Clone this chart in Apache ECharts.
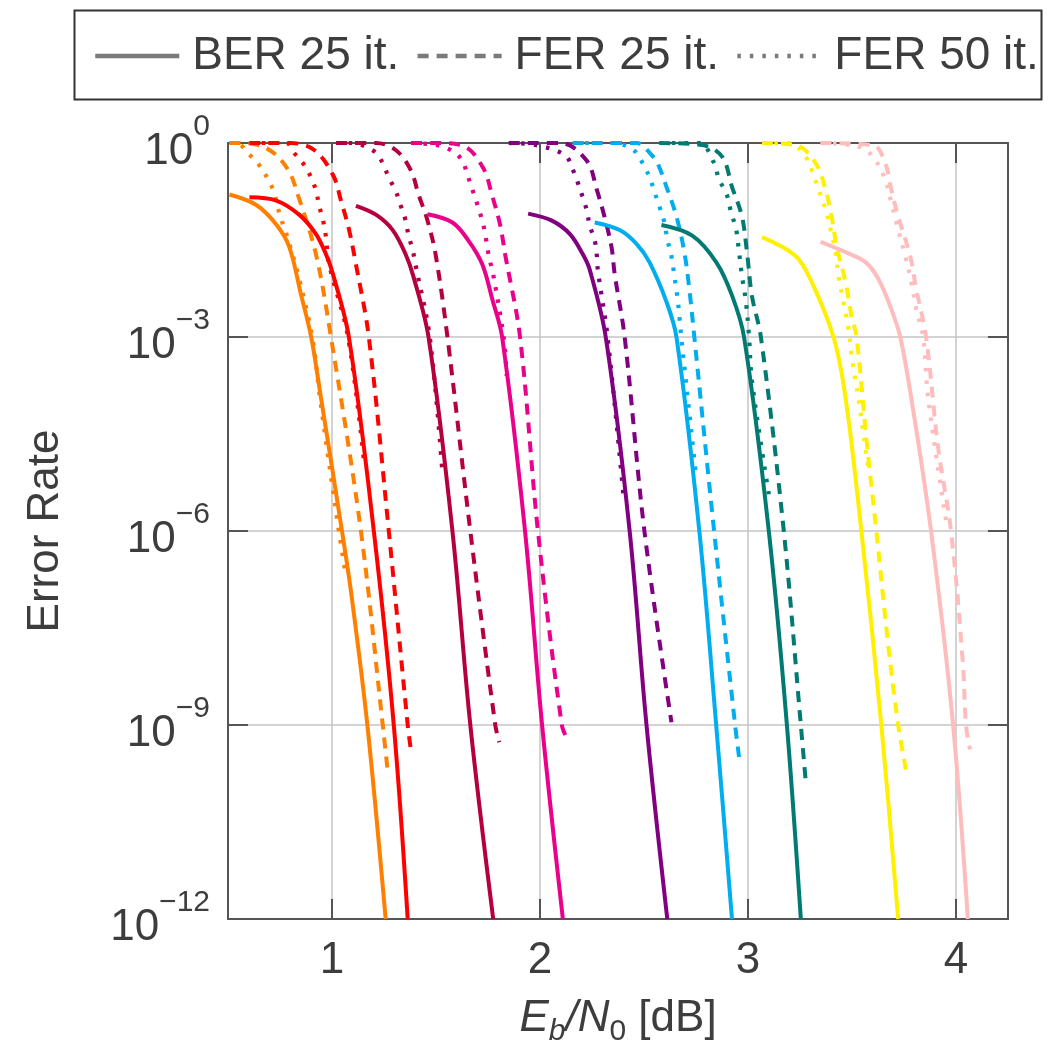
<!DOCTYPE html>
<html>
<head>
<meta charset="utf-8">
<script src="https://cdn.jsdelivr.net/npm/echarts@6/dist/echarts.min.js"></script>
<style>
html,body{margin:0;padding:0;background:#fff;overflow:hidden;width:100%;height:100%;}
#chart{width:100vw;height:100vh;}
</style>
</head>
<body>
<div id="chart"></div>
<script>
// ---- axis ticks ----
const xTicks = [1, 2, 3, 4];
const xMin = 0.5, xMax = 4.25;
const yMin = 1e-12, yMax = 1;

// ---- legend labels ----
const legendNames = ['BER 25 it.', 'FER 25 it.', 'FER 50 it.'];

// ---- colours per code ----
const codeColors = ['#ff8000', '#ff0000', '#b5003c', '#ea008a', '#800080', '#00aeef', '#007a72', '#fff000', '#ffbcbc'];

// ---- data: [Eb/N0 dB, error rate] ----
const orangeBER = [[0.507,0.16],[0.636,0.11],[0.732,0.055],[0.794,0.025],[0.852,4.4e-3],[0.9,1e-3],[0.947,1.15e-4],[1.048,1e-6],[1.094,1e-7],[1.17,1e-9],[1.258,1e-12]];
const orangeFER25 = [[0.507,1],[0.579,1],[0.699,0.78],[0.789,0.385],[0.837,0.154],[0.923,0.019],[0.995,1e-3],[1.139,1e-6],[1.244,1e-9],[1.268,1.9e-10]];
const orangeFER50 = [[0.507,1],[0.541,1],[0.603,0.66],[0.651,0.45],[0.694,0.27],[0.722,0.17],[0.75,0.075],[0.78,0.04],[0.804,0.022],[0.837,9.3e-3],[0.905,1e-3],[0.942,1.15e-4],[1.033,1e-6],[1.067,2e-7]];

const redBER = [[0.603,0.145],[0.732,0.129],[0.842,0.078],[0.923,0.039],[0.971,0.019],[1.005,9.3e-3],[1.081,1e-3],[1.201,1e-6],[1.297,1e-9],[1.364,1e-12]];
const redFER25 = [[0.603,1],[0.8,1],[0.914,0.78],[1.005,0.32],[1.043,0.129],[1.081,0.047],[1.115,0.0134],[1.177,1e-3],[1.273,1e-6],[1.364,1e-9],[1.378,4.4e-10]];
const redFER50 = [[0.603,1],[0.78,1],[0.818,0.7],[0.866,0.46],[0.9,0.29],[0.923,0.183],[0.938,0.108],[0.957,0.0635],[0.971,0.035],[0.986,0.0134],[1.077,1e-3],[1.153,1.26e-5]];

const crimsonBER = [[1.115,0.107],[1.211,0.078],[1.292,0.045],[1.354,0.019],[1.392,8.5e-3],[1.464,1e-3],[1.579,1e-6],[1.665,1e-9],[1.775,1e-12]];
const crimsonFER25 = [[1.02,1],[1.211,1],[1.306,0.78],[1.378,0.385],[1.416,0.16],[1.459,0.0635],[1.498,0.019],[1.555,1e-3],[1.665,1e-6],[1.785,1e-9],[1.804,5.4e-10]];
const crimsonFER50 = [[1.02,1],[1.09,1],[1.201,0.75],[1.244,0.49],[1.273,0.29],[1.306,0.183],[1.33,0.108],[1.354,0.0635],[1.368,0.037],[1.388,0.022],[1.402,0.0129],[1.47,1e-3],[1.531,7.9e-6]];

const magentaBER = [[1.459,0.079],[1.579,0.059],[1.656,0.031],[1.722,0.0134],[1.77,3.9e-3],[1.818,1e-3],[1.928,1e-6],[2.01,1e-9],[2.11,1e-12]];
const magentaFER25 = [[1.38,1],[1.5,1],[1.632,0.9],[1.727,0.41],[1.77,0.154],[1.809,0.053],[1.833,0.0185],[1.904,1e-3],[1.99,1e-6],[2.105,1e-9],[2.134,5.8e-10]];
const magentaFER50 = [[1.38,1],[1.5,0.93],[1.579,0.75],[1.627,0.53],[1.651,0.32],[1.675,0.19],[1.699,0.112],[1.722,0.063],[1.737,0.039],[1.746,0.0245],[1.761,0.0144],[1.775,9.3e-3],[1.825,1e-3],[1.84,2.5e-4]];

const purpleBER = [[1.943,0.081],[2.057,0.063],[2.144,0.039],[2.206,0.019],[2.239,0.011],[2.316,1e-3],[2.431,1e-6],[2.512,1e-9],[2.612,1e-12]];
const purpleFER25 = [[1.85,1],[2.1,1],[2.225,0.53],[2.273,0.19],[2.311,0.0706],[2.344,0.0245],[2.359,9.4e-3],[2.407,1e-3],[2.502,1e-6],[2.632,1.1e-9]];
const purpleFER50 = [[1.85,1],[1.98,0.93],[2.12,0.65],[2.158,0.385],[2.182,0.243],[2.206,0.143],[2.225,0.0906],[2.239,0.053],[2.263,0.0313],[2.273,0.0185],[2.278,0.0109],[2.325,1e-3],[2.402,3.3e-6]];

const cyanBER = [[2.263,0.059],[2.383,0.045],[2.464,0.0275],[2.526,0.0144],[2.608,3.5e-3],[2.656,1e-3],[2.766,1e-6],[2.847,1e-9],[2.923,1e-12]];
const cyanFER25 = [[2.158,1],[2.464,1],[2.541,0.63],[2.565,0.49],[2.608,0.21],[2.656,0.073],[2.694,0.0205],[2.718,5.5e-3],[2.742,1e-3],[2.837,1e-6],[2.938,1e-9],[2.957,3.2e-10]];
const cyanFER50 = [[2.158,1],[2.36,1],[2.455,0.75],[2.493,0.49],[2.526,0.3],[2.55,0.177],[2.574,0.104],[2.598,0.059],[2.612,0.0325],[2.632,0.0178],[2.646,8.8e-3],[2.66,4.3e-3],[2.67,2.1e-3],[2.679,1e-3],[2.751,6.8e-6]];

const tealBER = [[2.584,0.054],[2.732,0.037],[2.847,0.0144],[2.923,4.4e-3],[2.981,1e-3],[3.1,1e-6],[3.187,1e-9],[3.254,1e-12]];
const tealFER25 = [[2.574,1],[2.78,0.93],[2.876,0.61],[2.923,0.21],[2.971,0.073],[2.995,0.0205],[3.019,4.3e-3],[3.062,1e-3],[3.172,1e-6],[3.254,1e-9],[3.278,1.3e-10]];
const tealFER50 = [[2.574,1],[2.766,1],[2.837,0.49],[2.861,0.27],[2.895,0.171],[2.919,0.084],[2.943,0.046],[2.957,0.0205],[2.971,8.8e-3],[2.99,3.5e-3],[3.005,1e-3],[3.019,2.1e-4],[3.1,3.7e-6]];

const yellowBER = [[3.067,0.035],[3.23,0.0178],[3.306,7.1e-3],[3.411,1e-3],[3.469,1.15e-4],[3.545,1e-6],[3.641,1e-9],[3.722,1e-12]];
const yellowFER25 = [[3.067,1],[3.23,0.93],[3.325,0.49],[3.373,0.19],[3.402,0.073],[3.426,0.0253],[3.469,7.1e-3],[3.498,2.1e-3],[3.522,1e-3],[3.57,2.5e-5],[3.617,1e-6],[3.672,2e-8],[3.722,1e-9],[3.761,1.9e-10]];
const yellowFER50 = [[3.067,1],[3.2,1],[3.23,0.93],[3.278,0.61],[3.306,0.385],[3.34,0.19],[3.373,0.094],[3.397,0.046],[3.421,0.0205],[3.435,8.8e-3],[3.459,3.5e-3],[3.483,1.35e-3],[3.498,5.2e-4],[3.517,2.1e-4],[3.531,1.14e-4],[3.579,8.6e-6]];

const pinkBER = [[3.349,0.0295],[3.469,0.0205],[3.565,0.0144],[3.627,7.9e-3],[3.689,2.7e-3],[3.732,1e-3],[3.785,1.14e-4],[3.88,1e-6],[3.986,1e-9],[4.057,1e-12]];
const pinkFER25 = [[3.349,1],[3.6,0.93],[3.66,0.49],[3.689,0.19],[3.722,0.073],[3.78,0.0178],[3.809,5.5e-3],[3.856,1e-3],[3.914,1.95e-5],[3.976,1e-6],[4.033,9.1e-9],[4.048,1e-9],[4.067,4.2e-10]];
const pinkFER50 = [[3.349,1],[3.498,0.93],[3.565,0.78],[3.612,0.55],[3.66,0.27],[3.689,0.12],[3.722,0.046],[3.756,0.0178],[3.785,7.1e-3],[3.809,2.7e-3],[3.842,1e-3],[3.866,1.14e-4],[3.952,1.48e-6]];

const codes = [
  [orangeBER, orangeFER25, orangeFER50],
  [redBER, redFER25, redFER50],
  [crimsonBER, crimsonFER25, crimsonFER50],
  [magentaBER, magentaFER25, magentaFER50],
  [purpleBER, purpleFER25, purpleFER50],
  [cyanBER, cyanFER25, cyanFER50],
  [tealBER, tealFER25, tealFER50],
  [yellowBER, yellowFER25, yellowFER50],
  [pinkBER, pinkFER25, pinkFER50]
];

// ---- styling ----
const FONT = '"Liberation Sans", Arial, sans-serif';
const TXT = '#3d3d3d';
const FRAME = '#555555';
const lineTypes = ['solid', [11, 8], [3.5, 9]];
const lineWidths = [4, 4, 4.2];

const series = [];
codes.forEach((c, i) => {
  [2, 1, 0].forEach(k => {
    series.push({
      type: 'line',
      name: 'code' + i + '-' + k,
      data: c[k],
      showSymbol: false,
      symbol: 'none',
      smooth: 0.35,
      silent: true,
      lineStyle: { color: codeColors[i], width: lineWidths[k], type: lineTypes[k], cap: 'butt' },
      z: 3 + (2 - k)
    });
  });
});
// legend-only series (gray samples)
legendNames.forEach((n, k) => {
  series.push({
    type: 'line', name: n, data: [], symbol: 'none', showSymbol: false,
    itemStyle: { color: '#7a7a7a' },
    lineStyle: { color: '#7a7a7a', width: 4.5, type: lineTypes[k] }
  });
});

const chart = echarts.init(document.getElementById('chart'), null, { renderer: 'canvas', width: 1050, height: 1052 });
const yLabelFmt = v => {
  const e = Math.round(Math.log10(v));
  return '{b|10}{s|' + (e < 0 ? '\u2212' + (-e) : String(e)) + '}';
};

chart.setOption({
  animation: false,
  backgroundColor: '#ffffff',
  textStyle: { fontFamily: FONT },
  grid: { left: 228, right: 42, top: 143, bottom: 127, containLabel: false },
  legend: {
    data: legendNames.map(n => ({ name: n })),
    left: 88, top: 28,
    itemWidth: 84, itemHeight: 14, itemGap: 16,
    itemStyle: { opacity: 0, borderWidth: 0 },
    lineStyle: { width: 4.5, color: '#7a7a7a' },
    textStyle: { fontSize: 46, color: TXT, fontFamily: FONT, padding: [0, 0, 0, 8] },
    selectedMode: false
  },
  graphic: [{
    type: 'rect', left: 72, top: 8, silent: true,
    shape: { width: 967, height: 89 },
    style: { fill: 'none', stroke: '#333', lineWidth: 2 }
  }],
  xAxis: [{
    type: 'value', min: xMin, max: xMax, position: 'bottom',
    name: '{i|E}{sb|b}{i|/N}{s0|0}{n| [dB]}',
    nameLocation: 'middle', nameGap: 78,
    nameTextStyle: {
      rich: {
        i: { fontSize: 44, fontStyle: 'italic', color: TXT, fontFamily: FONT, verticalAlign: 'top', lineHeight: 50 },
        sb: { fontSize: 30, fontStyle: 'italic', color: TXT, fontFamily: FONT, verticalAlign: 'bottom', lineHeight: 30 },
        s0: { fontSize: 30, color: TXT, fontFamily: FONT, verticalAlign: 'bottom', lineHeight: 30 },
        n: { fontSize: 44, color: TXT, fontFamily: FONT, verticalAlign: 'top', lineHeight: 50 }
      }
    },
    axisLine: { show: true, onZero: false, lineStyle: { color: FRAME, width: 2 } },
    axisTick: { show: true, inside: true, length: 20, customValues: xTicks, lineStyle: { color: FRAME, width: 2 } },
    axisLabel: { show: true, customValues: xTicks, fontSize: 44, color: TXT, fontFamily: FONT, margin: 20 },
    splitLine: { show: true, lineStyle: { color: '#c4c4c4', width: 1.5 } }
  }, {
    type: 'value', min: xMin, max: xMax, position: 'top',
    axisLine: { show: true, onZero: false, lineStyle: { color: FRAME, width: 2 } },
    axisTick: { show: true, inside: true, length: 20, customValues: xTicks, lineStyle: { color: FRAME, width: 2 } },
    axisLabel: { show: false },
    splitLine: { show: false }
  }],
  yAxis: [{
    type: 'log', logBase: 10, min: yMin, max: yMax, interval: 3, position: 'left',
    name: 'Error Rate', nameLocation: 'middle', nameGap: 160, nameRotate: 90,
    nameTextStyle: { fontSize: 44, color: TXT, fontFamily: FONT },
    axisLine: { show: true, onZero: false, lineStyle: { color: FRAME, width: 2 } },
    axisTick: { show: true, inside: true, length: 20, lineStyle: { color: FRAME, width: 2 } },
    axisLabel: {
      show: true, margin: 18, formatter: yLabelFmt,
      rich: {
        b: { fontSize: 44, color: TXT, fontFamily: FONT, verticalAlign: 'bottom', lineHeight: 62 },
        s: { fontSize: 30, color: TXT, fontFamily: FONT, verticalAlign: 'top', lineHeight: 30 }
      }
    },
    splitLine: { show: true, lineStyle: { color: '#c4c4c4', width: 1.5 } }
  }, {
    type: 'log', logBase: 10, min: yMin, max: yMax, interval: 3, position: 'right',
    axisLine: { show: true, onZero: false, lineStyle: { color: FRAME, width: 2 } },
    axisTick: { show: true, inside: true, length: 20, lineStyle: { color: FRAME, width: 2 } },
    axisLabel: { show: false },
    splitLine: { show: false }
  }],
  series: series
});
</script>
</body>
</html>
